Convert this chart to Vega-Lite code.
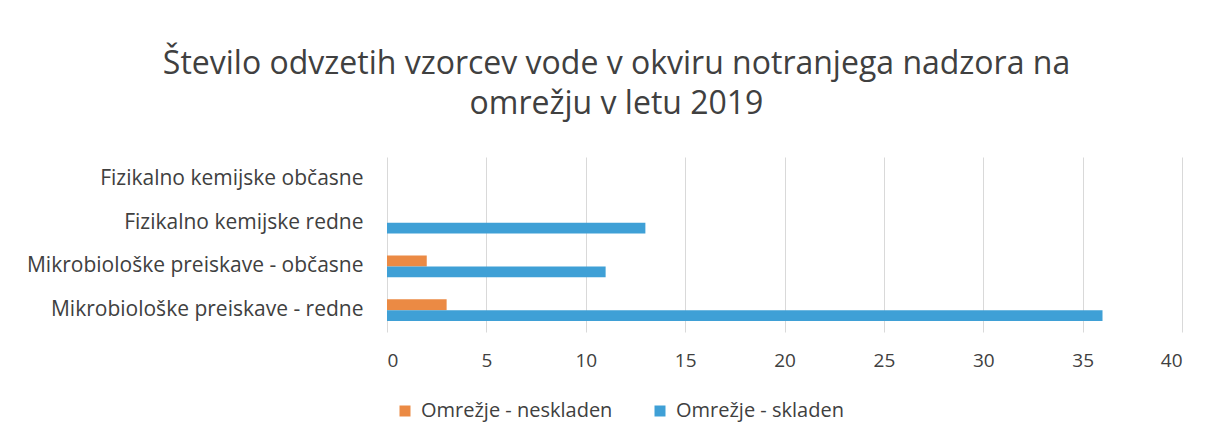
{
  "$schema": "https://vega.github.io/schema/vega-lite/v6.json",
  "width": 795,
  "height": 175,
  "autosize": "none",
  "padding": {"left": 387, "top": 157, "right": 30, "bottom": 111},
  "background": "white",
  "title": {
    "text": ["Število odvzetih vzorcev vode v okviru notranjega nadzora na", "omrežju v letu 2019"],
    "anchor": "middle",
    "frame": "group",
    "dx": -168,
    "fontSize": 32,
    "lineHeight": 40,
    "font": "Open Sans",
    "fontWeight": "normal",
    "color": "#404040",
    "offset": 36
  },
  "data": {
    "values": [
      {"kategorija": "Fizikalno kemijske občasne", "serija": "Omrežje - neskladen", "vrednost": 0},
      {"kategorija": "Fizikalno kemijske občasne", "serija": "Omrežje - skladen", "vrednost": 0},
      {"kategorija": "Fizikalno kemijske redne", "serija": "Omrežje - neskladen", "vrednost": 0},
      {"kategorija": "Fizikalno kemijske redne", "serija": "Omrežje - skladen", "vrednost": 13},
      {"kategorija": "Mikrobiološke preiskave - občasne", "serija": "Omrežje - neskladen", "vrednost": 2},
      {"kategorija": "Mikrobiološke preiskave - občasne", "serija": "Omrežje - skladen", "vrednost": 11},
      {"kategorija": "Mikrobiološke preiskave - redne", "serija": "Omrežje - neskladen", "vrednost": 3},
      {"kategorija": "Mikrobiološke preiskave - redne", "serija": "Omrežje - skladen", "vrednost": 36}
    ]
  },
  "mark": {"type": "bar"},
  "encoding": {
    "y": {
      "field": "kategorija",
      "type": "nominal",
      "sort": ["Fizikalno kemijske občasne", "Fizikalno kemijske redne", "Mikrobiološke preiskave - občasne", "Mikrobiološke preiskave - redne"],
      "scale": {"paddingInner": 0.5, "paddingOuter": 0.25},
      "axis": {
        "title": null,
        "domain": false,
        "ticks": false,
        "labelFont": "Open Sans",
        "labelFontSize": 21,
        "labelColor": "#404040",
        "labelPadding": 24,
        "labelLimit": 400
      }
    },
    "yOffset": {
      "field": "serija",
      "type": "nominal",
      "sort": ["Omrežje - neskladen", "Omrežje - skladen"]
    },
    "x": {
      "field": "vrednost",
      "type": "quantitative",
      "scale": {"domain": [0, 40]},
      "axis": {
        "title": null,
        "values": [0, 5, 10, 15, 20, 25, 30, 35, 40],
        "domain": false,
        "ticks": false,
        "grid": true,
        "gridColor": "#d9d9d9",
        "labelFont": "Open Sans",
        "labelFontSize": 19,
        "labelColor": "#404040",
        "labelPadding": 19
      }
    },
    "color": {
      "field": "serija",
      "type": "nominal",
      "sort": ["Omrežje - neskladen", "Omrežje - skladen"],
      "scale": {"domain": ["Omrežje - neskladen", "Omrežje - skladen"], "range": ["#EB8A44", "#3FA0D6"]},
      "legend": {
        "title": null,
        "orient": "none",
        "direction": "horizontal",
        "legendX": 8,
        "legendY": 244,
        "symbolType": "square",
        "symbolSize": 121,
        "symbolStrokeWidth": 0,
        "labelFont": "Open Sans",
        "labelFontSize": 20,
        "labelColor": "#404040",
        "labelOffset": 6,
        "labelLimit": 400,
        "columnPadding": 37
      }
    }
  },
  "config": {"view": {"stroke": null}}
}
